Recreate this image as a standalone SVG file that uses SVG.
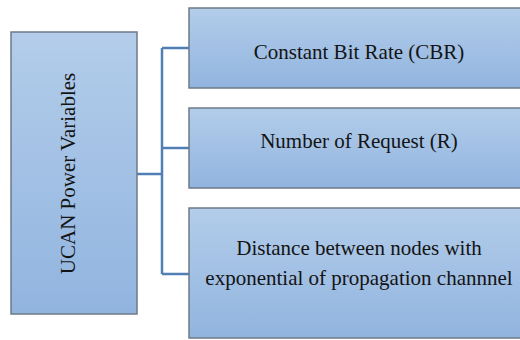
<svg xmlns="http://www.w3.org/2000/svg" width="520" height="340" viewBox="0 0 520 340">
  <defs>
    <linearGradient id="g" x1="0" y1="0" x2="0" y2="1">
      <stop offset="0" stop-color="#b3cdea"/>
      <stop offset="1" stop-color="#91b4df"/>
    </linearGradient>
    <style>
      .box { fill: url(#g); stroke: #6e7a88; stroke-width: 1.5; }
      .lbl { font-family: "Liberation Serif", "Times New Roman", serif; font-size: 21px; fill: #141414; text-anchor: middle; }
      .conn { fill: none; stroke: #4f7fb5; stroke-width: 2.5; }
    </style>
  </defs>
  <rect width="520" height="340" fill="#ffffff"/>
  <g id="connectors">
    <path class="conn" d="M137 174 H162 M162 48 V274 M162 48 H190 M162 148 H190 M162 274 H190"/>
  </g>
  <g id="root">
    <rect class="box" x="11" y="32" width="126" height="282"/>
    <text class="lbl" transform="translate(75 173.5) rotate(-90)" x="0" y="0">UCAN Power Variables</text>
  </g>
  <g id="cbr">
    <rect class="box" x="189" y="8" width="340" height="80"/>
    <text class="lbl" x="359" y="59">Constant Bit Rate (CBR)</text>
  </g>
  <g id="request">
    <rect class="box" x="189" y="108" width="340" height="80"/>
    <text class="lbl" x="359" y="148">Number of Request (R)</text>
  </g>
  <g id="distance">
    <rect class="box" x="189" y="208" width="340" height="130"/>
    <text class="lbl" x="359" y="255">Distance between nodes with</text>
    <text class="lbl" x="359" y="285">exponential of propagation channnel</text>
  </g>
</svg>
